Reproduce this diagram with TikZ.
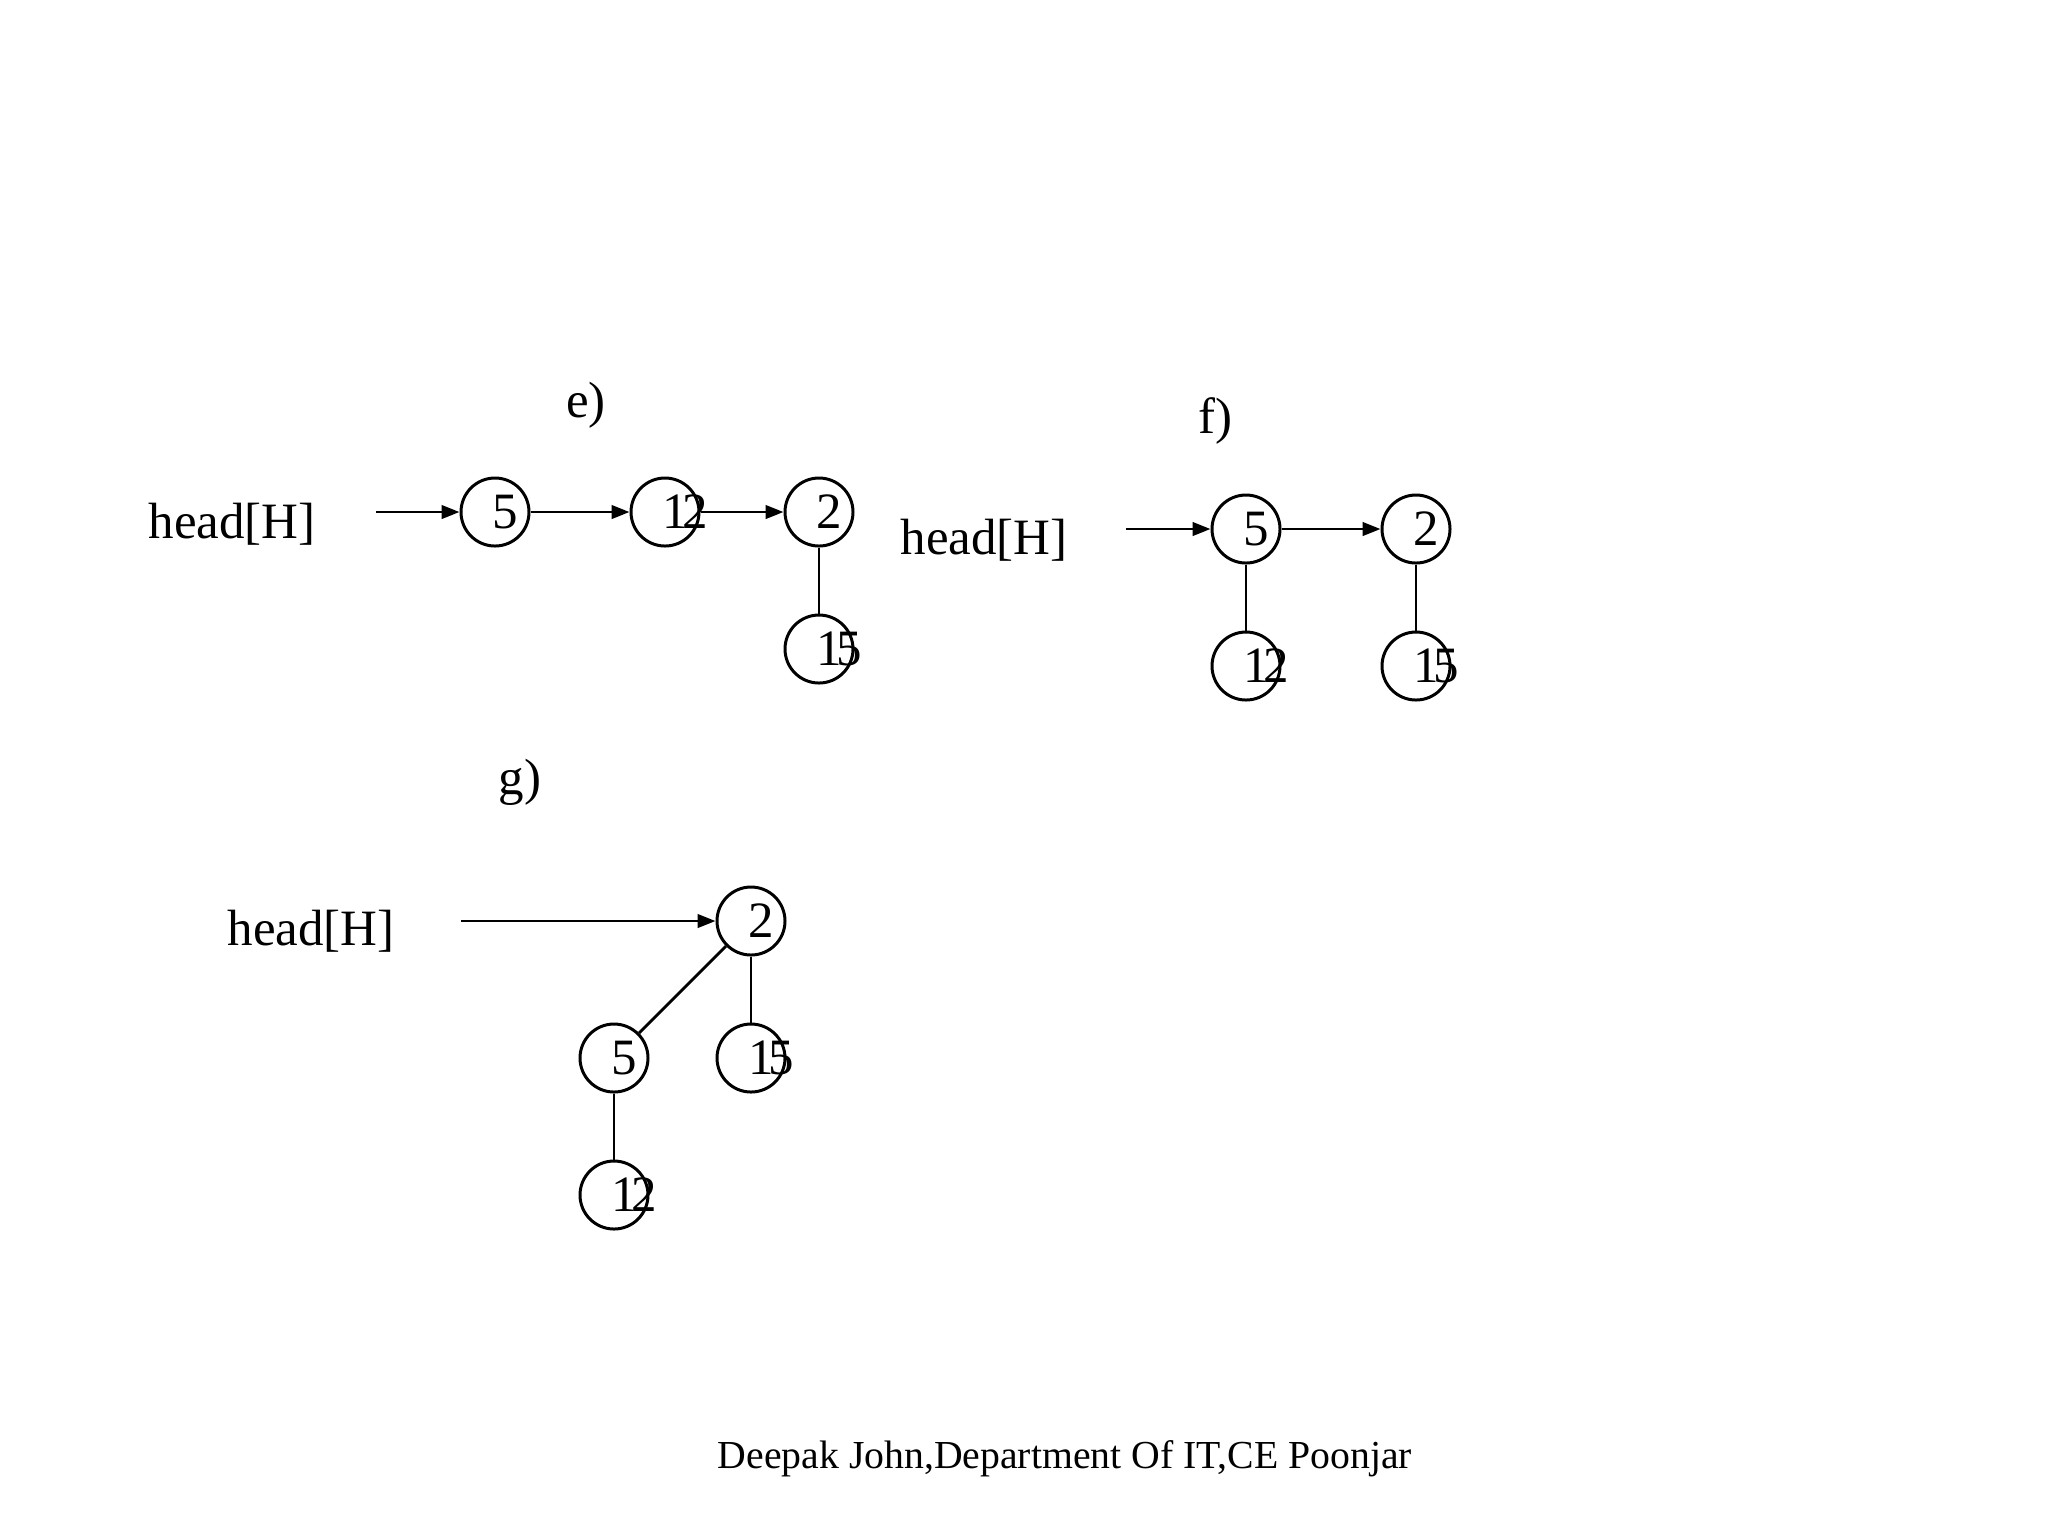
\documentclass[tikz,border=0pt]{standalone}
\usepackage{fontspec}
\setmainfont{Liberation Serif}
\usetikzlibrary{arrows.meta}
\newcommand\keytxt[1]{\makebox[0pt][l]{\hspace{-0.04em}#1}}
\tikzset{
  key/.style={circle, draw, line width=0.85pt, minimum size=6.8mm, inner sep=0pt,
    font=\fontsize{14.5}{17}\selectfont},
  headlbl/.style={font=\fontsize{14.5}{17}\selectfont, inner sep=0pt},
  steplbl/.style={font=\fontsize{14.5}{17}\selectfont, inner sep=0pt},
  arr/.style={-{Triangle[length=1.8mm, width=1.35mm]}, line width=0.8pt},
  link/.style={line width=0.8pt},
}
\begin{document}
\begin{tikzpicture}[x=0.1mm, y=-0.1mm]
  \useasboundingbox (0,0) rectangle (2048,1536);

  % e)
  \node[steplbl] (labE) at (586,405) {e)};
  \node[headlbl] (headE) at (232,524) {head[H]};
  \coordinate (startE) at (376,512);
  \node[key] (e5) at (495,512) {\keytxt{5}};
  \node[key] (e12) at (665,512) {\keytxt{1\kern-0.11em 2}};
  \node[key] (e2) at (819,512) {\keytxt{2}};
  \node[key] (e15) at (819,649) {\keytxt{1\kern-0.11em 5}};
  \draw[arr] (startE) -- (e5);
  \draw[arr] (e5) -- (e12);
  \draw[arr] (e12) -- (e2);
  \draw[link] (e2) -- (e15);

  % f)
  \node[steplbl] (labF) at (1215,421) {f)};
  \node[headlbl] (headF) at (984,540) {head[H]};
  \coordinate (startF) at (1126,529);
  \node[key] (f5) at (1246,529) {\keytxt{5}};
  \node[key] (f2) at (1416,529) {\keytxt{2}};
  \node[key] (f12) at (1246,666) {\keytxt{1\kern-0.11em 2}};
  \node[key] (f15) at (1416,666) {\keytxt{1\kern-0.11em 5}};
  \draw[arr] (startF) -- (f5);
  \draw[arr] (f5) -- (f2);
  \draw[link] (f5) -- (f12);
  \draw[link] (f2) -- (f15);

  % g)
  \node[steplbl] (labG) at (520,782) {g)};
  \node[headlbl] (headG) at (311,931) {head[H]};
  \coordinate (startG) at (461,921);
  \node[key] (g2) at (751,921) {\keytxt{2}};
  \node[key] (g5) at (614,1058) {\keytxt{5}};
  \node[key] (g15) at (751,1058) {\keytxt{1\kern-0.11em 5}};
  \node[key] (g12) at (614,1195) {\keytxt{1\kern-0.11em 2}};
  \draw[arr] (startG) -- (g2);
  \draw[link] (g2) -- (g5);
  \draw[link] (g2) -- (g15);
  \draw[link] (g5) -- (g12);

  \node[font=\fontsize{11.3}{13}\selectfont, inner sep=0pt] (footer) at (1065,1459)
    {Deepak John,Department Of IT,CE Poonjar};
\end{tikzpicture}
\end{document}
